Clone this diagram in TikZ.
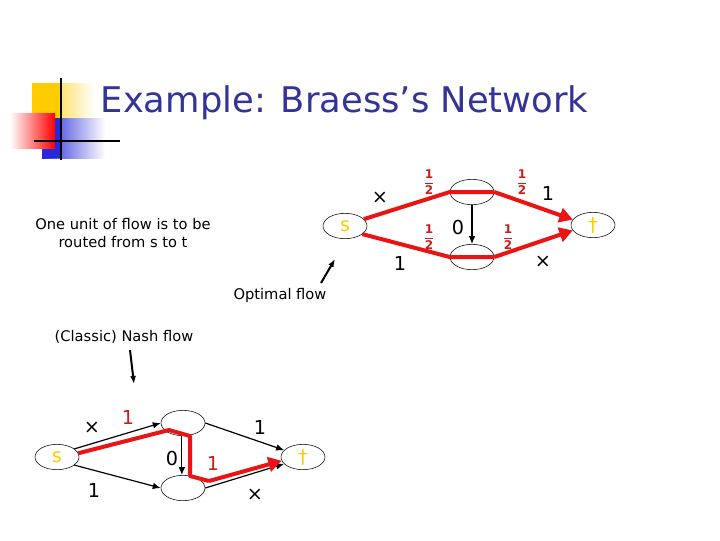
\documentclass[tikz,border=0pt]{standalone}
\usepackage{fontspec}
\setmainfont{DejaVu Sans}
\usetikzlibrary{arrows.meta,shapes.geometric}
\definecolor{ttl}{RGB}{51,51,153}
\definecolor{nr}{RGB}{200,30,30}
\definecolor{fl}{RGB}{235,20,20}
\definecolor{yl}{RGB}{255,204,0}
\definecolor{bl}{RGB}{40,40,220}
\begin{document}
\begin{tikzpicture}[x=0.75pt,y=-0.75pt,
  nd/.style={draw,ellipse,minimum width=33pt,minimum height=19pt,inner sep=0pt,font=\Large\color{yl}},
  ed/.style={draw,-{Latex[length=6pt,width=5pt]},line width=0.9pt},
  fw/.style={draw=fl,line width=3pt},
  fwa/.style={draw=fl,line width=3pt,-{Triangle[length=10pt,width=11pt]}},
  lb/.style={font=\Large},
  rl/.style={font=\small\bfseries\color{nr}},
  tx/.style={font=\fontsize{11}{13}\selectfont,align=center}]
\useasboundingbox (0,0) rectangle (720,540);
% decoration
\shade[left color=yl,right color=white] (32,83) rectangle (95,118);
\fill[yl] (32,83) rectangle (62,118);
\shade[left color=bl,right color=white] (42,118) rectangle (105,158);
\fill[bl] (42,118) rectangle (62,158);
\shade[left color=white,right color=red] (10,113) rectangle (55,148);
\draw[line width=2pt] (61,78) -- (61,160);
\draw[line width=2pt] (34,141) -- (120,141);
\node[font=\fontsize{26.5}{30}\selectfont,text=ttl,anchor=west] (title) at (96,103) {Example: Braess’s Network};
\node[tx] (desc) at (123,233) {One unit of flow is to be\\routed from s to t};
% top network
\node[nd] (s1) at (345,226) {s};
\node[nd] (a1) at (472,192) {};
\node[nd] (b1) at (472,257) {};
\node[nd] (t1) at (593,225) {†};
\draw[ed] (a1) -- (b1);
\draw[fw] (s1.20) -- (a1.west) -- (a1.east);
\draw[fwa] (a1.east) -- (t1.165);
\draw[fw] (s1.-25) -- (b1.west) -- (b1.east);
\draw[fwa] (b1.east) -- (t1.-165);
\node[lb] (x1) at (380,198) {×};
\node[rl] (h1) at (429,182) {$\displaystyle\mathbf{\frac{1}{2}}$};
\node[rl] (h2) at (522,182) {$\displaystyle\mathbf{\frac{1}{2}}$};
\node[lb] (o1) at (548,193) {1};
\node[lb] (z1) at (458,228) {0};
\node[rl] (h3) at (429,237) {$\displaystyle\mathbf{\frac{1}{2}}$};
\node[rl] (h4) at (508,237) {$\displaystyle\mathbf{\frac{1}{2}}$};
\node[lb] (o2) at (400,263) {1};
\node[lb] (x2) at (543,262) {×};
\node[tx] (opt) at (280,295) {Optimal flow};
\coordinate (oa) at (321,283);
\coordinate (ob) at (335,259);
\draw[-{Latex[length=6pt]},line width=1.5pt] (oa) -- (ob);
% bottom network
\node[tx] (nash) at (124,337) {(Classic) Nash flow};
\coordinate (na) at (130,350);
\coordinate (nb) at (134,384);
\draw[-{Latex[length=6pt]},line width=1.5pt] (na) -- (nb);
\node[nd] (s2) at (57,457) {s};
\node[nd] (a2) at (183,423) {};
\node[nd] (b2) at (183,488) {};
\node[nd] (t2) at (303,457) {†};
\draw[ed] (s2.25) -- (a2.west);
\draw[ed] (s2.-25) -- (b2.west);
\draw[ed] (a2.east) -- (t2.160);
\draw[ed] (b2.east) -- (t2.-160);
\draw[ed] (a2.-95) -- (b2.95);
\coordinate (r1) at (169,430);
\coordinate (r2) at (190,436);
\coordinate (r3) at (190,476);
\coordinate (r4) at (209,481);
\draw[fw,line join=round] (s2.10) -- (r1) -- (r2) -- (r3) -- (r4);
\draw[fwa] (r4) -- (t2.-170);
\node[lb] (x3) at (92,428) {×};
\node[lb,text=nr] (q1) at (128,417) {1};
\node[lb] (q2) at (260,427) {1};
\node[lb] (z2) at (172,458) {0};
\node[lb,text=nr] (q3) at (213,463) {1};
\node[lb] (q4) at (94,490) {1};
\node[lb] (x4) at (255,495) {×};
\end{tikzpicture}
\end{document}
